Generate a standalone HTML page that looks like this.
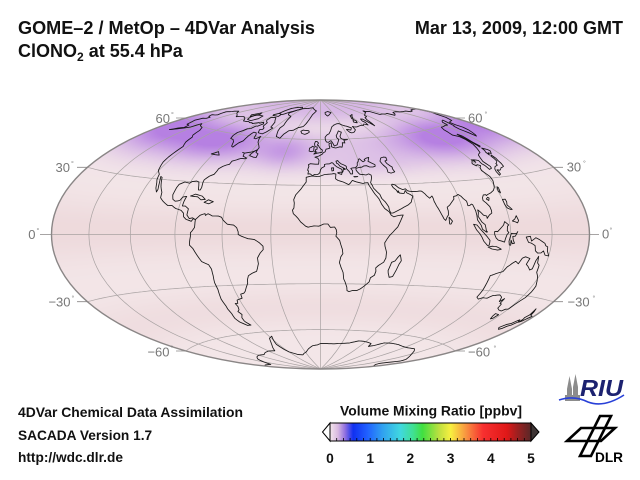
<!DOCTYPE html>
<html><head><meta charset="utf-8">
<style>
html,body{margin:0;padding:0;background:#fff;}
#wrap{position:relative;width:640px;height:480px;overflow:hidden;background:#fff;}
svg,canvas{position:absolute;left:0;top:0;}
text{font-family:"Liberation Sans",Arial,sans-serif;}
</style></head><body><div id="wrap">
<svg width="640" height="480"><ellipse cx="320.5" cy="234.5" rx="269" ry="134.5" fill="#f2e3e5"/></svg>
<canvas id="cv" width="640" height="480"></canvas>
<svg id="fg" width="640" height="480" xmlns="http://www.w3.org/2000/svg">
<defs>
<linearGradient id="cb" x1="0" x2="1" y1="0" y2="0">
<stop offset="0" stop-color="#f4e6ec"/>
<stop offset="0.04" stop-color="#d8b8e0"/>
<stop offset="0.075" stop-color="#9070e0"/>
<stop offset="0.115" stop-color="#1030f0"/>
<stop offset="0.185" stop-color="#2060ff"/>
<stop offset="0.26" stop-color="#30a0f0"/>
<stop offset="0.35" stop-color="#40d8e0"/>
<stop offset="0.415" stop-color="#40e090"/>
<stop offset="0.46" stop-color="#40e040"/>
<stop offset="0.545" stop-color="#c0e040"/>
<stop offset="0.6" stop-color="#f8f040"/>
<stop offset="0.68" stop-color="#f89040"/>
<stop offset="0.76" stop-color="#f83030"/>
<stop offset="0.88" stop-color="#e01818"/>
<stop offset="0.93" stop-color="#a02020"/>
<stop offset="1" stop-color="#582828"/>
</linearGradient>
</defs>
<g id="grid" fill="none" stroke="#a8a2a2" stroke-width="0.7"></g>
<g id="coast" fill="none" stroke="#151515" stroke-width="0.85" stroke-linejoin="round"></g>
<ellipse cx="320.5" cy="234.5" rx="269" ry="134.5" fill="none" stroke="#8a8686" stroke-width="1.4"/>
<g stroke="#8a8686" stroke-width="0.8">
<path d="M176 118H186M77 167.3H87M40 234.5H51.5M77 301.7H87M176 351H186"/>
<path d="M455 118H465M554 167.3H563M589.5 234.5H599M554 301.7H563M455 351H465"/>
</g>
<g fill="#777" font-size="13">
<text x="170" y="123" text-anchor="end">60</text>
<text x="70" y="172" text-anchor="end">30</text>
<text x="35.5" y="239" text-anchor="end">0</text>
<text x="70.5" y="306.7" text-anchor="end">−30</text>
<text x="169.5" y="356.7" text-anchor="end">−60</text>
<text x="468" y="122.7">60</text>
<text x="566.7" y="171.7">30</text>
<text x="602" y="238.5">0</text>
<text x="567.5" y="306.7">−30</text>
<text x="468" y="356.7">−60</text>
</g>
<g fill="#777" font-size="7">
<text x="171" y="117">°</text>
<text x="71" y="166">°</text>
<text x="36.5" y="233">°</text>
<text x="71.5" y="300.7">°</text>
<text x="170.5" y="350.7">°</text>
<text x="484.5" y="116.7">°</text>
<text x="583" y="165.7">°</text>
<text x="609.5" y="232.5">°</text>
<text x="592.5" y="300.7">°</text>
<text x="493.5" y="350.7">°</text>
</g>
<g fill="#111" font-weight="bold">
<text x="18" y="34" font-size="18" textLength="297" lengthAdjust="spacingAndGlyphs">GOME–2 / MetOp – 4DVar Analysis</text>
<text x="18" y="57" font-size="18">ClONO<tspan font-size="12" dy="4">2</tspan><tspan dy="-4"> at 55.4 hPa</tspan></text>
<text x="623" y="34" font-size="18" text-anchor="end">Mar 13, 2009, 12:00 GMT</text>
<text x="18" y="417" font-size="13.7" textLength="225" lengthAdjust="spacingAndGlyphs">4DVar Chemical Data Assimilation</text>
<text x="18" y="440" font-size="13.7">SACADA Version 1.7</text>
<text x="18" y="462" font-size="13.7">http://wdc.dlr.de</text>
<text x="431" y="415.5" font-size="13.8" text-anchor="middle" textLength="182" lengthAdjust="spacingAndGlyphs">Volume Mixing Ratio [ppbv]</text>
<g font-size="13.8" text-anchor="middle">
<text x="330" y="463">0</text><text x="370.2" y="463">1</text><text x="410.4" y="463">2</text>
<text x="450.6" y="463">3</text><text x="490.8" y="463">4</text><text x="531" y="463">5</text>
</g>
</g>
<rect x="330" y="423" width="201" height="18" fill="url(#cb)" stroke="#000" stroke-width="1"/>
<polygon points="330,423 322.5,432 330,441" fill="#fff" stroke="#000" stroke-width="1"/>
<polygon points="531,423 539,432 531,441" fill="#3e3434" stroke="#000" stroke-width="1"/>
<g id="cbt" stroke="#000" stroke-width="0.8"></g>
<g fill="#8c8c8c">
<polygon points="567,401 567,389 569.5,376 572,389 572,401"/>
<polygon points="573,401 573,387 575.5,374 578,387 578,401"/>
<rect x="565" y="395" width="15" height="6"/>
</g>
<text x="580" y="396" font-size="23" font-weight="bold" font-style="italic" fill="#1c2270" textLength="43" lengthAdjust="spacingAndGlyphs">RIU</text>
<path d="M559 400 Q574 395 588 402 Q604 408 624 395" fill="none" stroke="#2840d8" stroke-width="1.6"/>
<g fill="none" stroke="#000" stroke-width="2.6" stroke-linejoin="miter">
<polygon points="567,441 581,428 615,428 601,441"/>
<polygon points="600,416 611,416 591,456 580,456"/>
</g>
<text x="595" y="462" font-size="14" font-weight="bold" fill="#000" textLength="28" lengthAdjust="spacingAndGlyphs">DLR</text>
</svg>
</div>
<script>
(function(){
var cx=320.5,cy=234.5,s=95.1,R2=Math.SQRT2,D=Math.PI/180;
function P(lon,lat){var l=lon*D/2,p=lat*D;var d=Math.sqrt(1+Math.cos(p)*Math.cos(l));return [cx+s*2*R2*Math.cos(p)*Math.sin(l)/d, cy-s*R2*Math.sin(p)/d];}
function pth(a,closed){var out='';var n2=a.length/2;for(var i=0;i<n2;i++){var lo=a[2*i],la=a[2*i+1];if(i==0){var q=P(lo,la);out+='M'+q[0].toFixed(1)+' '+q[1].toFixed(1);}else{var blo=a[2*i-2],bla=a[2*i-1];var n=Math.max(1,Math.ceil(Math.max(Math.abs(lo-blo),Math.abs(la-bla))/2));for(var k=1;k<=n;k++){var q=P(blo+(lo-blo)*k/n,bla+(la-bla)*k/n);out+='L'+q[0].toFixed(1)+' '+q[1].toFixed(1);}}}if(closed)out+='Z';return out;}
var NS='http://www.w3.org/2000/svg';
function add(g,d){var e=document.createElementNS(NS,'path');e.setAttribute('d',d);g.appendChild(e);}
try{
var cv=document.getElementById('cv');var ctx=cv.getContext('2d');var img=ctx.createImageData(640,480);var dt=img.data;
function w(x){x=((x+180)%360+360)%360-180;return x;}
function G(x,sg){return Math.exp(-x*x/(2*sg*sg));}
function sm(a,b,x){var t=Math.min(1,Math.max(0,(x-a)/(b-a)));return t*t*(3-2*t);}
for(var y=95;y<376;y++){for(var x=45;x<597;x++){var X=(x+0.5-cx)/s,Y=(cy-(y+0.5))/s;if(X*X/8+Y*Y/2>1)continue;var z=Math.sqrt(Math.max(0,1-X*X/16-Y*Y/4));var lon=2*Math.atan2(z*X,2*(2*z*z-1))/D;var lat=Math.asin(Math.max(-1,Math.min(1,z*Y)))/D;
var A=G(lat-55,9);
var m=0.32+0.75*G(w(lon+105),35)+0.8*G(w(lon-125),35)+0.5*G(w(lon+165),22);
var t=A*m+0.4*G(lat-50,7)*G(w(lon+30),15)+0.45*sm(65,82,lat)+0.2*G(lat-42,5)*G(w(lon-35),30);
t=Math.min(1,t);
var q=0.5*G(lat-2,10)+0.35*G(lat+45,8);q=Math.min(1,q);
var r=243+(232-243)*q,gg=230+(205-230)*q,b=232+(208-232)*q;
r=r+(182-r)*t;gg=gg+(128-gg)*t;b=b+(226-b)*t;
var i=(y*640+x)*4;dt[i]=r;dt[i+1]=gg;dt[i+2]=b;dt[i+3]=255;}}
ctx.putImageData(img,0,0);
}catch(e){}
var gg=document.getElementById('grid');
for(var lo=-150;lo<=150;lo+=30){var a=[];for(var la=-90;la<=90;la+=2){a.push(lo,la);}add(gg,pth(a,false));}
[-60,-30,0,30,60].forEach(function(la){var a=[];for(var lo=-180;lo<=180;lo+=2){a.push(lo,la);}add(gg,pth(a,false));});
var cb=document.getElementById('cbt');var d='';for(var k=1;k<30;k++){var xx=330+k*201/30;d+='M'+xx.toFixed(1)+' 441V438';}add(cb,d);
var C=[
[-165,54,-158,56,-152,58,-150,61,-146,60,-140,59.5,-136,58,-133,55,-130,54,-128,51,-124,48.5,-124,46,-124,42,-123.5,39,-122.5,37.5,-120.5,34.5,-117,32.5,-115.5,29.5,-114,28,-112,25,-110,23,-110,24.5,-112,28,-114.5,31.5,-113,31,-111,28.5,-109,26,-106,23,-105,20,-102,18,-98,16,-95,16,-92,14.5,-88,13.5,-86,12,-85.5,10,-83.5,8.5,-80,7.5,-79,9,-77.5,8.5,-79.5,9.5,-81.5,9,-83.5,11,-83.5,14.5,-86,16,-88,16,-88,18.5,-87.5,21.5,-90,21,-91,19,-94,18.5,-96,19.5,-97.5,22,-97.5,26,-97,28,-94,29.5,-90,29,-89,30,-86,30.5,-84,30,-82.7,28,-81.5,25.5,-80.2,25.5,-80,27,-81,30,-81.2,31.5,-79,33.8,-76.5,35,-76,37,-76,38.5,-74,40,-72,41,-70,41.5,-70,43.5,-67,44.5,-66,45,-64.5,45.5,-61,45.5,-60,46,-64,47,-65,49,-67,49.3,-64.5,49,-59.5,50,-56,51.5,-56,53,-58,54.5,-61.5,56.5,-64,59,-64.5,60.3,-67,58.5,-69.5,58.8,-71.5,61,-74,62.3,-77.5,62.5,-78,60,-77,56.5,-79,55,-80,52,-82,52.5,-85,55.2,-88,56.5,-92,57,-94,59,-94.5,61,-92,62.5,-90.5,64,-87,64.5,-86,66.5,-84,66.5,-81.5,68.5,-85,69.5,-88,68.5,-90,68.8,-94,68,-96,67.5,-98.5,68,-102,67.8,-106,68.3,-110,68,-114,68,-118,69,-121,69.5,-125,70,-129,70,-133,69.5,-136,68.9,-141,69.7,-145,70,-150,70.4,-156,71.3,-160,70.5,-163,69.5,-166,68.8,-164,67.5,-162,66.5,-164,66,-168,65.5,-165,64.5,-161,64.5,-161,63.5,-164.5,63,-165,62,-166,61,-164,60,-162,58.5,-158,58.5,-157,57,-161,55.8,-165,54],
[-73,78,-67,80.5,-60,82,-45,82.5,-30,83.5,-20,82,-12,81,-18,78,-19,76,-20,74,-22,71,-24,69,-30,68,-34,66,-39,65.5,-42,63,-43,60,-45,60.5,-48,61,-50,63,-52,65,-53,67,-52,69,-54,71,-56,73,-58,75.5,-62,76,-68,76.5,-72,77.5,-73,78],
[-62,66.5,-66,67,-68,69,-70,70.5,-75,72,-80,73.5,-88,73,-86,71,-82,70,-79,69.5,-77,67,-73,66,-72,65,-75,64.5,-72,62.5,-66,62,-64,63.5,-62,66.5],
[-118,72.5,-112,73,-105,73,-102,71,-106,69,-114,69.3,-118,71,-118,72.5],
[-90,76.5,-80,76,-75,78.5,-70,80,-62,82,-70,83,-85,82,-92,81,-92,78.5,-90,76.5],
[-125,72,-120,74.5,-116,73.5,-120,71,-125,72],
[-92,74.5,-80,74.5,-82,76,-90,76.5,-94,75,-92,74.5],
[-85,21.8,-82,23,-77,22,-74.2,20.2,-77,19.9,-80,21.5,-85,21.8],
[-74.4,18.5,-72,20,-68.5,19,-71,17.7,-74.4,18.5],
[-59,47.6,-55,46.8,-52.7,46.7,-53,49,-55.5,49.8,-56,51.6,-57.5,50.6,-59,48.5,-59,47.6],
[-92,46.7,-88,48.5,-84.5,46.5,-88,46.5,-92,46.7],
[-77.5,8.5,-75,11,-72,12,-71.5,11,-70,12,-67,10.7,-63,10.7,-61,10,-60,8.5,-57,6,-53,5.5,-51,4,-50,1.5,-50,0,-48,-1,-44,-2.5,-40,-3,-37,-5,-35,-7,-35,-9,-37,-11,-39,-14,-39,-17.5,-40,-20,-41,-22,-44,-23,-47,-24.5,-48.5,-27,-49,-29,-51,-31.5,-53,-34,-54.5,-35,-57,-35.5,-57.5,-38,-62,-39,-63,-41,-65,-41,-64.5,-43,-65.5,-45,-67.5,-46,-66,-48,-68.5,-50,-69,-52,-68.5,-53,-66.5,-55,-70,-55,-74,-52.5,-75,-50,-74,-47,-74,-44,-73.5,-42,-73.5,-38,-72.5,-35,-71.5,-32,-71.5,-28,-70.5,-24,-70,-20,-71,-17.5,-75,-15.5,-77,-12,-79,-8,-81,-6,-80.5,-3,-80,-1,-80,1,-79,2,-77.5,4,-77.5,7,-77.5,8.5],
[-6,35.8,-10,35,-9.8,32,-13,27.5,-16,24,-17,21,-16.5,19,-16.5,16,-17.3,14.7,-16.7,12.5,-15,11,-13.5,9.5,-12,7.5,-9,5,-7.5,4.4,-4,5.2,-1,5,2,6.3,4.5,6.3,6,4.3,8.5,4.5,9.5,3,9.8,1,9.3,-1,11.5,-3.5,12.3,-6,13.3,-9,13.7,-11.5,12.5,-13.5,11.8,-17,13,-20,14.5,-23,15.3,-27,16.5,-29,18,-32,18.5,-34.2,20,-34.8,22.5,-34,25.5,-34,27.5,-33,30,-31,32.5,-28.5,32.7,-26,35,-24.5,35.5,-22,35,-20,36.5,-18.5,39.5,-16.5,40.5,-14,40.5,-10.5,39.3,-7,39,-5,40.5,-2.5,42,-0.5,44,1.5,47,4.5,49,8,51,11.5,48,11.2,45,10.5,43.5,11.5,42.5,13.5,40,15.5,38.5,18,37.3,21.5,35.5,24,34,27,32.5,30,32.3,31.3,30,31.2,29,30.9,25,31.8,22,32.9,20,31,19,30.3,15.5,32,12,33,10.5,34,11,37,9.5,37.3,7,37,3,36.8,-1,35.5,-6,35.8],
[49.3,-12,50.5,-15.5,49.5,-17.5,48.5,-21,47.2,-25,45,-25.5,43.7,-23,43.3,-21.5,44.5,-16.5,46.5,-15.7,48,-13.5,49.3,-12],
[-5.6,36,-7.5,37.2,-9,37,-8.8,39,-9.5,39.5,-8.8,42,-9.3,43,-8,43.7,-4,43.4,-1.5,43.4,-1.2,46,-2.2,47.3,-4.6,48,-1.5,48.7,1.5,50,2.5,51,4,51.5,5,53.3,7,53.6,8.6,54,8.2,55.5,8.3,57,10.5,57.7,10.5,56,10,55,12,54.3,14,54,18,54.8,20,54.5,21,56,21.5,57.5,24,57.3,24,59.2,28,59.5,23,59.9,21.5,60.7,21.5,62,25,64.8,22,65.8,19,63.5,17.5,62.5,17.5,61,19,59.8,17,57.5,16,56.2,13,55.4,12.5,56.5,11,58.9,10,59,8,58,6,58.2,5,59.5,5,61.5,7,63,10,64,12.5,66,14.5,68,16,69,19,70,22,70.6,25,71,28,71,31,70,33,69.4,36,69,41,67.5,38,66,35,66.5,33,66.5,35,64.5,37,64,40.5,64.5,44,66,44,68.5,46,68,50,68,54,68.5,58,68.8,60,68.5,63,69.5,67,68.5,68.5,70.5,67,71.5,69,73,72,72.8,72.5,71,74,67.5,77,72,80,73.5,86,74,87,75,95,76,100,76.4,104,77.7,107,76.8,112,76.5,113.5,73.5,118,73.5,124,73,128,73,130,71,135,71.5,140,72.5,146,72.3,150,71.5,155,71,160,70.7,162,69.6,167,69.5,170,70,175,69.8,180,68.9,179,65.5,177,64.5,174,61.8,170,60,166,60,163,59.8,162,58,163,56.2,162,54.5,160,53,158,51.7,156.5,51,156,53,155.5,56,156.8,57.8,158.5,58,161,60.2,163,61.6,160,61.5,157,61,154,59.2,151,59.5,148,59.3,143,59.3,140,58,137,54.5,140.5,53,141,51,140,48,138,46,135,43.5,132.5,43,131,42.5,129.5,41,128,39,129.5,36,129,35,126.5,34.5,126,37,125,38,125.5,39.8,122,40.5,121.5,39,121,40.8,119,39.5,118,39,117.7,38.5,119,37.2,120.8,37.8,122.5,37,120.5,36,119.5,34.5,120.8,32.5,121.8,31,121.8,30,121.5,28.5,120,26.5,119,25,117,23.5,114,22.3,111,21.5,110,21,109.8,21.5,108,21.5,106.5,20,106,18.5,107.5,17,109,15,109.3,13,109,11.5,107,10.5,105,8.7,105,10,103,10.5,101,12.7,100,13.5,100,12,99.2,10,100.3,8,101,6.9,103,5.3,103.5,2,104.2,1.4,103.5,1.3,101,2.8,100.3,5,98.3,8,98.5,10.5,98.5,13,97.7,16.5,97,16.8,95.5,16,94.3,16,94.5,18.5,93,20,92,21.5,90.5,22.5,89,21.8,87,21.5,86.5,20,84.5,18.5,82.2,16.6,80.2,15.5,80.3,13.4,79.8,11,79,10.3,77.5,8,76.5,9,75.5,11.5,74.5,14,73.5,16.5,72.8,19,72.8,21,72.5,22.2,70.5,21,69,22.5,68.5,23.5,67.3,24.8,66.5,25.4,64,25.3,61.5,25.2,58.5,25.5,57.3,25.8,56.5,27,54.5,26.6,52,27.8,50.5,29.5,48.5,30,48,29.5,48.5,28,50,26.5,50.8,24.8,51.2,26,51.6,24.5,54.5,24.2,56,26,56.5,24.5,58.5,23.5,59.8,22.5,58.5,20.5,57.7,19,55.5,17.5,52.2,16,49,14.5,45,12.8,43.5,12.7,42.8,14.5,42.7,16.5,41,19.5,39.2,21.5,38.5,24,37,25.7,35.2,28,34.9,29.5,34.2,31.3,35,32.8,35.9,34.5,36,36,34.6,36.8,32.5,36.1,30.5,36.4,28,36.7,26.6,38.5,26.2,39.5,26.5,40.5,29,41,31,41.1,33,41.9,35,42,37,41.1,39.5,41,41.5,41.5,41.8,42.5,39.8,43.5,37.5,44.7,38.5,46,39.5,47.2,37,46.8,35,46,35.5,45.3,33.5,44.5,32.5,45.4,31.5,46.5,30.5,46.2,29.8,45,28.6,44,28,42.2,26.2,40.9,24,40.8,22.6,40.5,23.5,39,23,37,21.6,37,21,38.5,19.4,40.3,19.5,41.8,18.5,42.5,16,43.5,14,45,13.7,45.7,12.3,45.3,12.5,44,13.5,43.5,14.8,42,16,41.5,18.5,40.2,18,39.8,17,40.5,16.6,39,16,38,15.7,40,14,40.8,12,41.8,10.5,43,9.5,44.2,8.5,44.3,7,43.6,4.5,43.5,3,43.2,3.2,42,1,41,0,39.8,-0.3,38.5,-0.7,37.6,-2,36.8,-4.5,36.7,-5.6,36],
[47,44.5,49,46.5,51.5,47,53.5,46.8,53,45,51,44.5,51.3,43,52.8,41.5,54,40.5,53.5,39.5,54,37.5,51,36.8,49,37.5,49.5,40,48,42,47.5,43,47,44.5],
[-5.7,50,-3,50.6,1.3,51.2,1.7,52.7,0.2,53.5,-1,54.5,-2,55.9,-3,56,-2,57.5,-3.5,58.6,-5,58.6,-5.7,57,-5.5,56,-4.9,55,-3,54.8,-3.2,54,-3,53.4,-4.6,52.8,-4.3,52,-5.2,51.7,-3.2,51.4,-4.5,51,-5.7,50],
[-6,52,-6,53.9,-5.7,54.7,-7.5,55.3,-8.5,54.5,-10,54,-10,52,-8,51.6,-6,52],
[-22,64,-24,65.5,-22,66.4,-18,66.2,-14.5,66,-13.5,65,-15,64.3,-18,63.4,-22,64],
[130,31,131.5,31.5,132,33.8,134,33.4,135.2,33.8,136.8,34.5,138.5,34.7,140,35,140.8,36.5,141,38,141.8,39.5,141.4,41.4,140,40.8,140,39.5,139.5,38,137,37,136.5,37,136,36,133,35.5,131,34.4,130,33,130,31],
[140,41.5,141.5,42.6,143.3,42,145.5,43.3,145,44.2,142,45.4,141.5,44,140.3,43.2,140,41.5],
[142,46,143.5,46.5,143,49,144,53,142.8,54.3,142,52.5,142,49,142,46],
[120.2,23,121,21.9,121.9,24.8,121.2,25.2,120.2,23],
[108.7,19.2,110,18.3,111,19.6,110.2,20.1,108.7,19.2],
[120,18.5,122,18.5,122.2,17,121.5,15.5,124,13,123,13,121,13.8,120.5,14.5,120,16,120,18.5],
[122,7,124,8,125.5,9.7,126.5,7.2,125.5,6,124,6.5,122,7],
[109,1.5,110,1.7,111,1.5,113,3,115.5,5,116.5,6.8,117.7,6,119,5,118,4.3,117.7,2,118.8,1,117.5,0,116.5,-2,116,-4,114.5,-3.6,111.5,-3,110,-1.8,109,0,109,1.5],
[95.3,5.6,97.5,5.2,100,2.5,103.8,-1,106,-3.2,105.8,-5.8,104.5,-5.9,102,-3.8,100.5,-1.5,99,0.5,97,2.5,95.3,5.6],
[105.2,-6.8,108,-6.3,111,-6.5,114.5,-7.8,112,-8.3,108,-7.8,105.2,-6.8],
[119.5,-5.5,120.5,-5.6,120.5,-3,121.5,-4.8,123,-4.5,122,-3,121.5,-1,123.2,-0.9,125,1.5,124,0.4,120.5,0.6,120,-0.5,119,-3.5,119.5,-5.5],
[131,-1.3,134,-0.9,135,-3.3,138,-1.6,141,-2.6,145,-4.3,146,-5.5,147.5,-6,148,-8,150,-10.3,147,-10,145,-8,143.5,-9,141,-9.2,139,-8.1,138,-5.5,135,-4.3,133,-4,132,-2.8,131,-1.3],
[172.7,-34.5,174.5,-36,175.9,-37.5,178.5,-37.7,177,-39.2,176.5,-40.5,175,-41.5,174.6,-39.8,173.8,-39.2,174.5,-37.5,172.7,-34.5],
[172.7,-40.5,174.3,-41.5,173,-43.5,171.3,-44.5,170.5,-46,169,-46.7,166.5,-46,168,-44,170.5,-43,172,-41,172.7,-40.5],
[79.8,6,80.6,5.9,81.8,7.5,80,9.8,79.8,8,79.8,6],
[113.5,-22,114.2,-26,115,-30,115,-34,117.5,-35,120,-34,123.5,-34,126,-32.3,131,-31.5,134,-32.5,135.7,-34.8,137.5,-33,137.8,-35.6,139.5,-35.8,140.5,-38,143.5,-38.8,146.3,-39,148,-37.8,150,-37.5,150.7,-35,151.5,-33,153,-31,153.5,-28,153,-25,150.8,-22.5,149,-20.5,146.3,-18.5,145.4,-15,143.5,-14,142.5,-10.7,141.5,-13,141.5,-17,140,-17.7,137.5,-16,135.5,-15,136.5,-12,133,-11.3,131,-12,129.5,-15,127,-13.8,125,-15,122.5,-17,121,-19.5,117,-20.7,114.5,-21.8,113.5,-22],
[144.6,-40.7,148.3,-40.9,148,-43,146.8,-43.6,145.2,-42.2,144.6,-40.7],
[11,78.5,15,77,18,77.5,22,78.5,27,79.5,20,80.5,12,79.8,11,78.5],
[52,71.5,56,70.7,58,72,56,74,60,76,68,76.8,62,75.5,57,73.5,54,72.5,52,71.5],
[12.5,38,15.6,38.2,15.1,36.7,12.5,37.6,12.5,38],
[8.4,39,9.6,39.2,9.8,41,8.2,41,8.4,39],
[23.5,35.3,26.3,35.2,24,35,23.5,35.3]
];
var cg=document.getElementById('coast');
for(var i=0;i<C.length;i++){add(cg,pth(C[i],true));}
var ant=[-180,-78,-170,-78,-160,-79,-150,-77,-140,-75,-130,-74,-120,-73.5,-110,-74,-100,-73,-90,-72.5,-80,-73,-75,-71,-70,-69,-66,-67,-62,-64.5,-57,-63.3,-60,-66,-63,-69,-62,-73,-60,-75,-50,-77.5,-40,-78,-35,-77,-28,-76,-20,-73.5,-12,-71.5,-5,-71,0,-70,10,-70,20,-70,30,-69.5,40,-69,50,-67,57,-67,65,-67.5,70,-68,72,-70,78,-69,85,-66.5,95,-66,105,-66,115,-66.5,125,-66.5,135,-66,142,-67,150,-68.5,160,-70,167,-71,170,-72.5,165,-75,163,-77,167,-78,175,-78.5,180,-78];
add(cg,pth(ant,false));
})();
</script>
</body></html>
